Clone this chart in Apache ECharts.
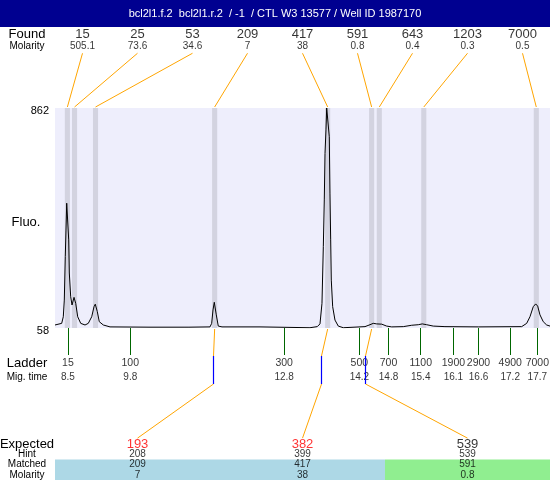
<!DOCTYPE html>
<html><head><meta charset="utf-8">
<script src="https://cdn.jsdelivr.net/npm/echarts@6/dist/echarts.min.js"></script>
<style>html,body{margin:0;padding:0;background:#fff}#c{width:550px;height:480px}</style>
</head><body><div id="c"></div>
<script>
// ---------------- data ----------------
const titleText = 'bcl2l1.f.2  bcl2l1.r.2  / -1  / CTL W3 13577 / Well ID 1987170';
const foundSize = [15, 25, 53, 209, 417, 591, 643, 1203, 7000];
const foundMolarity = ['505.1', '73.6', '34.6', '7', '38', '0.8', '0.4', '0.3', '0.5'];
const foundTime = [8.53, 8.67, 9.08, 11.41, 13.62, 14.48, 14.63, 15.50, 17.70];
const ladderSize = [15, 100, 300, 500, 700, 1100, 1900, 2900, 4900, 7000];
const ladderTime = [8.54, 9.76, 12.77, 14.24, 14.81, 15.44, 16.08, 16.57, 17.19, 17.72];
const expectedSize = [193, 382, 539];
const hintSize = [208, 399, 539];
const matchedSize = [209, 417, 591];
const matchedMolarity = ['7', '38', '0.8'];
const withinTolerance = [false, false, true];
const fluoTicks = [58, 862];
const timeRange = [8.288, 17.968];
const traceTime = [8.288, 8.419, 8.450, 8.470, 8.489, 8.503, 8.517, 8.536, 8.556, 8.568,
  8.595, 8.621, 8.660, 8.693, 8.732, 8.791, 8.875, 8.939, 9.006, 9.051,
  9.076, 9.115, 9.154, 9.233, 9.364, 10.146, 10.830, 10.863, 10.908, 11.319,
  11.352, 11.378, 11.403, 11.423, 11.442, 11.481, 11.554, 12.297, 13.274, 13.417,
  13.470, 13.509, 13.535, 13.554, 13.568, 13.587, 13.601, 13.632, 13.652, 13.665,
  13.679, 13.691, 13.718, 13.763, 13.828, 13.926, 14.350, 14.448, 14.512, 14.579,
  14.677, 14.774, 14.872, 15.099, 15.263, 15.392, 15.470, 15.556, 15.685, 15.914,
  16.565, 17.414, 17.512, 17.576, 17.641, 17.688, 17.727, 17.772, 17.836, 17.903, 17.968];
const traceFluo = [69, 75, 99, 160, 319, 416, 514, 508, 380, 259,
  172, 142, 170, 148, 99, 75, 69, 75, 99, 136,
  145, 118, 81, 69, 62, 61, 61, 58, 61, 62,
  75, 124, 152, 146, 106, 65, 62, 62, 59, 63,
  73, 148, 355, 526, 696, 782, 862, 855, 757, 551,
  380, 233, 136, 87, 65, 59, 63, 70, 75, 73,
  72, 65, 62, 63, 68, 70, 73, 70, 65, 63,
  62, 63, 75, 99, 136, 146, 138, 106, 81, 69, 65];

// ---------------- chart ----------------
const FONT = '"Liberation Sans", Arial, sans-serif';
const BIG = 13, SMALL = 10;
const bandHalf = 0.05;
const topRows = ['Molarity', 'Found'];
const ladderRows = ['Mig. time', 'Ladder'];
const tableRows = ['Molarity', 'Matched', 'Hint', 'Expected'];
const bigRows = ['Found', 'Ladder', 'Expected'];

function rowAxis(gridIndex, rows) {
  return {
    gridIndex, type: 'category', data: rows,
    axisLine: {show: false}, axisTick: {show: false}, splitLine: {show: false},
    axisLabel: {
      interval: 0, margin: 28, align: 'center', color: '#000',
      formatter: v => bigRows.includes(v) ? '{b|' + v + '}' : '{s|' + v + '}',
      rich: {b: {fontSize: BIG, fontFamily: FONT, color: '#000'}, s: {fontSize: SMALL, fontFamily: FONT, color: '#000'}}
    }
  };
}
function textScatter(xi, yi, data, size, colorFn) {
  return {
    type: 'scatter', xAxisIndex: xi, yAxisIndex: yi, symbolSize: 0, silent: true, z: 5,
    data: data.map((d, i) => ({value: d, label: {color: colorFn ? colorFn(i) : '#000'}})),
    label: {
      show: true, position: 'inside', fontSize: size, fontFamily: FONT,
      formatter: p => p.value[2]
    }
  };
}
function sizeToTime(s) {
  for (let k = 0; k < ladderSize.length - 1; k++) {
    if (s >= ladderSize[k] && s <= ladderSize[k + 1]) {
      const f = (s - ladderSize[k]) / (ladderSize[k + 1] - ladderSize[k]);
      return ladderTime[k] + f * (ladderTime[k + 1] - ladderTime[k]);
    }
  }
  return ladderTime[ladderTime.length - 1];
}
function grid(top, height, extra) {
  return Object.assign({left: 55, right: 0, top, height, containLabel: false, outerBoundsMode: 'none'}, extra || {});
}

const chart = echarts.init(document.getElementById('c'), null, {renderer: 'canvas'});
const option = {
  animation: false,
  textStyle: {fontFamily: FONT},
  title: {
    text: titleText, left: 'center', top: 8, padding: 0, z: 20,
    textStyle: {color: '#fff', fontSize: 11, fontWeight: 'normal', fontFamily: FONT}
  },
  grid: [
    grid(108, 220, {show: true, backgroundColor: '#EEEEFC', borderWidth: 0}),
    grid(29, 23),
    grid(356, 28),
    grid(439, 41)
  ],
  xAxis: [
    {gridIndex: 0, type: 'value', min: timeRange[0], max: timeRange[1],
      axisLine: {show: false}, splitLine: {show: false}, axisLabel: {show: false},
      axisTick: {show: true, inside: false, length: 27, customValues: ladderTime, lineStyle: {color: '#006600', width: 1}}},
    {gridIndex: 1, type: 'category', data: foundSize.map(String), show: false},
    {gridIndex: 2, type: 'value', min: timeRange[0], max: timeRange[1], show: false},
    {gridIndex: 3, type: 'category', data: expectedSize.map(String), show: false}
  ],
  yAxis: [
    {gridIndex: 0, type: 'value', min: fluoTicks[0], max: fluoTicks[1],
      axisLine: {show: false}, axisTick: {show: false}, splitLine: {show: false},
      axisLabel: {customValues: fluoTicks, color: '#000', margin: 6, fontFamily: FONT,
        formatter: v => '{n|' + v + '}',
        rich: {n: {fontSize: 11, fontFamily: FONT, color: '#000', padding: [5, 0, 0, 0]}}}},
    rowAxis(1, topRows),
    rowAxis(2, ladderRows),
    rowAxis(3, tableRows)
  ],
  series: [
    {
      type: 'custom', xAxisIndex: 0, yAxisIndex: 0, silent: true, z: 1,
      data: foundTime.map(t => [t]), encode: {x: 0},
      renderItem: (params, api) => {
        const t = api.value(0);
        const p1 = api.coord([t - bandHalf, fluoTicks[1]]);
        const p2 = api.coord([t + bandHalf, fluoTicks[0]]);
        return {type: 'rect', shape: {x: p1[0], y: p1[1], width: p2[0] - p1[0], height: p2[1] - p1[1]},
          style: {fill: '#D3D3E0'}};
      }
    },
    {
      type: 'line', xAxisIndex: 0, yAxisIndex: 0, silent: true, z: 3,
      data: traceTime.map((t, i) => [t, traceFluo[i]]),
      showSymbol: false, symbol: 'none', lineStyle: {color: '#000', width: 1}, clip: true
    },
    textScatter(1, 1, foundSize.map((s, i) => [i, 1, String(s)]), BIG),
    textScatter(1, 1, foundMolarity.map((m, i) => [i, 0, m]), SMALL),
    textScatter(2, 2, ladderSize.map((s, i) => [ladderTime[i], 1, String(s)]), 10.5),
    textScatter(2, 2, ladderTime.map(t => [t, 0, t.toFixed(1)]), SMALL),
    {
      type: 'custom', xAxisIndex: 3, yAxisIndex: 3, silent: true, z: 1,
      data: expectedSize.map((s, i) => [i]), encode: {x: 0},
      renderItem: (params, api) => {
        const i = api.value(0);
        const cs = params.coordSys;
        const colW = cs.width / expectedSize.length;
        const rowH = cs.height / tableRows.length;
        const c1 = api.coord([i, 1]);
        const c2 = api.coord([i, 0]);
        return {type: 'rect',
          shape: {x: c1[0] - colW / 2, y: c1[1] - rowH / 2, width: colW, height: c2[1] - c1[1] + rowH},
          style: {fill: withinTolerance[i] ? '#90EE90' : '#ADD8E6'}};
      }
    },
    textScatter(3, 3, expectedSize.map((s, i) => [i, 3, String(s)]), BIG, i => withinTolerance[i] ? '#000' : '#FF0000'),
    textScatter(3, 3, hintSize.map((s, i) => [i, 2, String(s)]), SMALL),
    textScatter(3, 3, matchedSize.map((s, i) => [i, 1, String(s)]), SMALL),
    textScatter(3, 3, matchedMolarity.map((m, i) => [i, 0, m]), SMALL)
  ]
};
chart.setOption(option);

// ---------- connector lines, positioned through the axes ----------
const X = (ax, v) => chart.convertToPixel({xAxisIndex: ax}, v);
const Y = (ax, v) => chart.convertToPixel({yAxisIndex: ax}, v);
const ORANGE = '#FFA500';
const g = [
  {type: 'rect', shape: {x: 0, y: 0, width: 550, height: 27}, style: {fill: '#000090'}, z: 0, silent: true},
  {type: 'text', x: 26, y: 222, silent: true, z: 5,
    style: {text: 'Fluo.', fontSize: BIG, fontFamily: FONT, fill: '#000', align: 'center', verticalAlign: 'middle'}}
];
const leaderTop = Y(1, 0) + 7;
const plotTop = Y(0, fluoTicks[1]);
const plotBottom = Y(0, fluoTicks[0]);
foundSize.forEach((s, i) => {
  g.push({type: 'line', silent: true, z: 4,
    shape: {x1: X(1, i), y1: leaderTop, x2: X(0, foundTime[i]), y2: plotTop - 1},
    style: {stroke: ORANGE, lineWidth: 1}});
});
const ladTop = Y(2, 1) - 7, ladBottom = Y(2, 0) + 7;
const expTop = Y(3, 3) - 6;
expectedSize.forEach((s, j) => {
  const fi = foundSize.indexOf(matchedSize[j]);
  const bx = X(0, foundTime[fi]);
  const hx = Math.round(X(0, sizeToTime(hintSize[j]))) + 0.5;
  const ex = X(3, j);
  g.push({type: 'line', silent: true, z: 4, shape: {x1: bx, y1: plotBottom + 1, x2: hx, y2: ladTop},
    style: {stroke: ORANGE, lineWidth: 1}});
  g.push({type: 'line', silent: true, z: 6, shape: {x1: hx, y1: ladTop, x2: hx, y2: ladBottom},
    style: {stroke: '#0000FF', lineWidth: 1.2}});
  g.push({type: 'line', silent: true, z: 4, shape: {x1: hx, y1: ladBottom, x2: ex, y2: expTop},
    style: {stroke: ORANGE, lineWidth: 1}});
});
chart.setOption({graphic: g});
</script>
</body></html>
